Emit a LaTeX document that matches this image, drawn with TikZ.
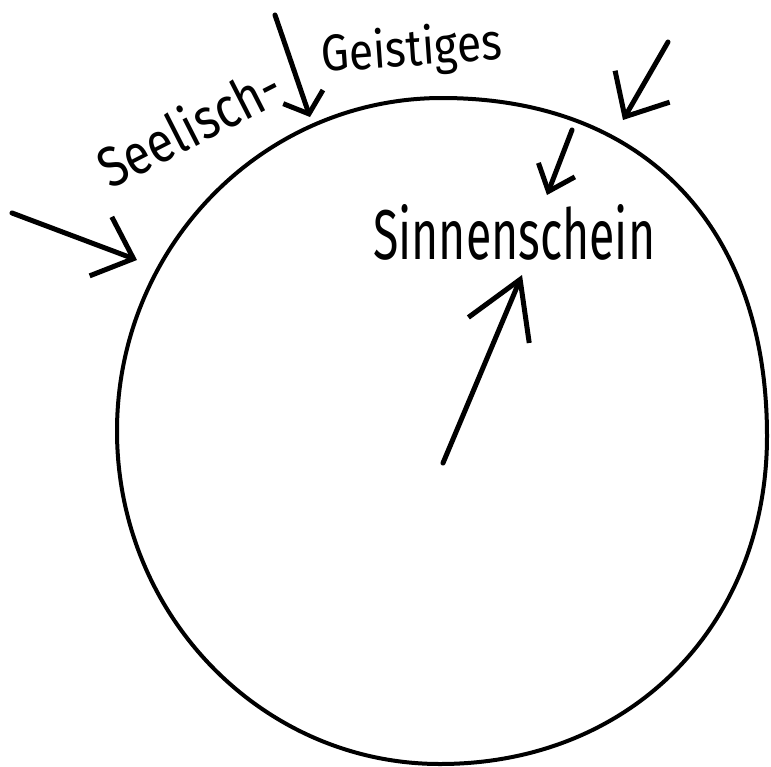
\documentclass[tikz,border=0pt]{standalone}
\usepackage{fontspec}
\setmainfont{Fira Sans}
\usetikzlibrary{arrows.meta}
\begin{document}
\begin{tikzpicture}[x=1pt,y=-1pt,
  rim/.style={line width=4pt, line join=round},
  shaft/.style={line width=5pt, line cap=round, line join=round},
  lbl/.style={inner sep=0pt}]
\useasboundingbox (0,0) rectangle (771,766);
% hand-drawn circle
\coordinate (ctop) at (442,98);
\coordinate (cright) at (767,436);
\coordinate (cbot) at (440,764);
\coordinate (cleft) at (117,431);
\draw[rim] (ctop) .. controls (643.5,98) and (767,226) .. (cright)
  .. controls (767,626) and (630,764) .. (cbot)
  .. controls (261.7,764) and (117,614.8) .. (cleft)
  .. controls (117,247.2) and (262.6,98) .. (ctop) -- cycle;
% labels
\node[lbl, anchor=base west] (sinn) at (373,259) {\resizebox{282pt}{55pt}{Sinnenschein}};
\node[lbl, anchor=base west, rotate=4] (geist) at (322,72) {\resizebox{181pt}{40pt}{Geistiges}};
\node[lbl, anchor=base west, rotate=27] (seel) at (110,190) {\resizebox{198pt}{44pt}{Seelisch-}};
% arrow ends
\coordinate (a1s) at (12,213);  \coordinate (a1t) at (137,260);
\coordinate (a2s) at (275,15);  \coordinate (a2t) at (310,117);
\coordinate (a3s) at (668,42);  \coordinate (a3t) at (623,120);
\coordinate (a4s) at (572,130); \coordinate (a4t) at (547,195);
\coordinate (a5s) at (443,463); \coordinate (a5t) at (522,275);
\draw[shaft, -{Straight Barb[length=35pt,width=63pt]}] (a1s) -- (a1t);
\draw[shaft, -{Straight Barb[length=18pt,width=42pt]}] (a2s) -- (a2t);
\draw[shaft, -{Straight Barb[length=35pt,width=63pt]}] (a3s) -- (a3t);
\draw[shaft, -{Straight Barb[length=23pt,width=39pt]}] (a4s) -- (a4t);
\draw[shaft, -{Straight Barb[length=55pt,width=66pt]}] (a5s) -- (a5t);
\end{tikzpicture}
\end{document}
